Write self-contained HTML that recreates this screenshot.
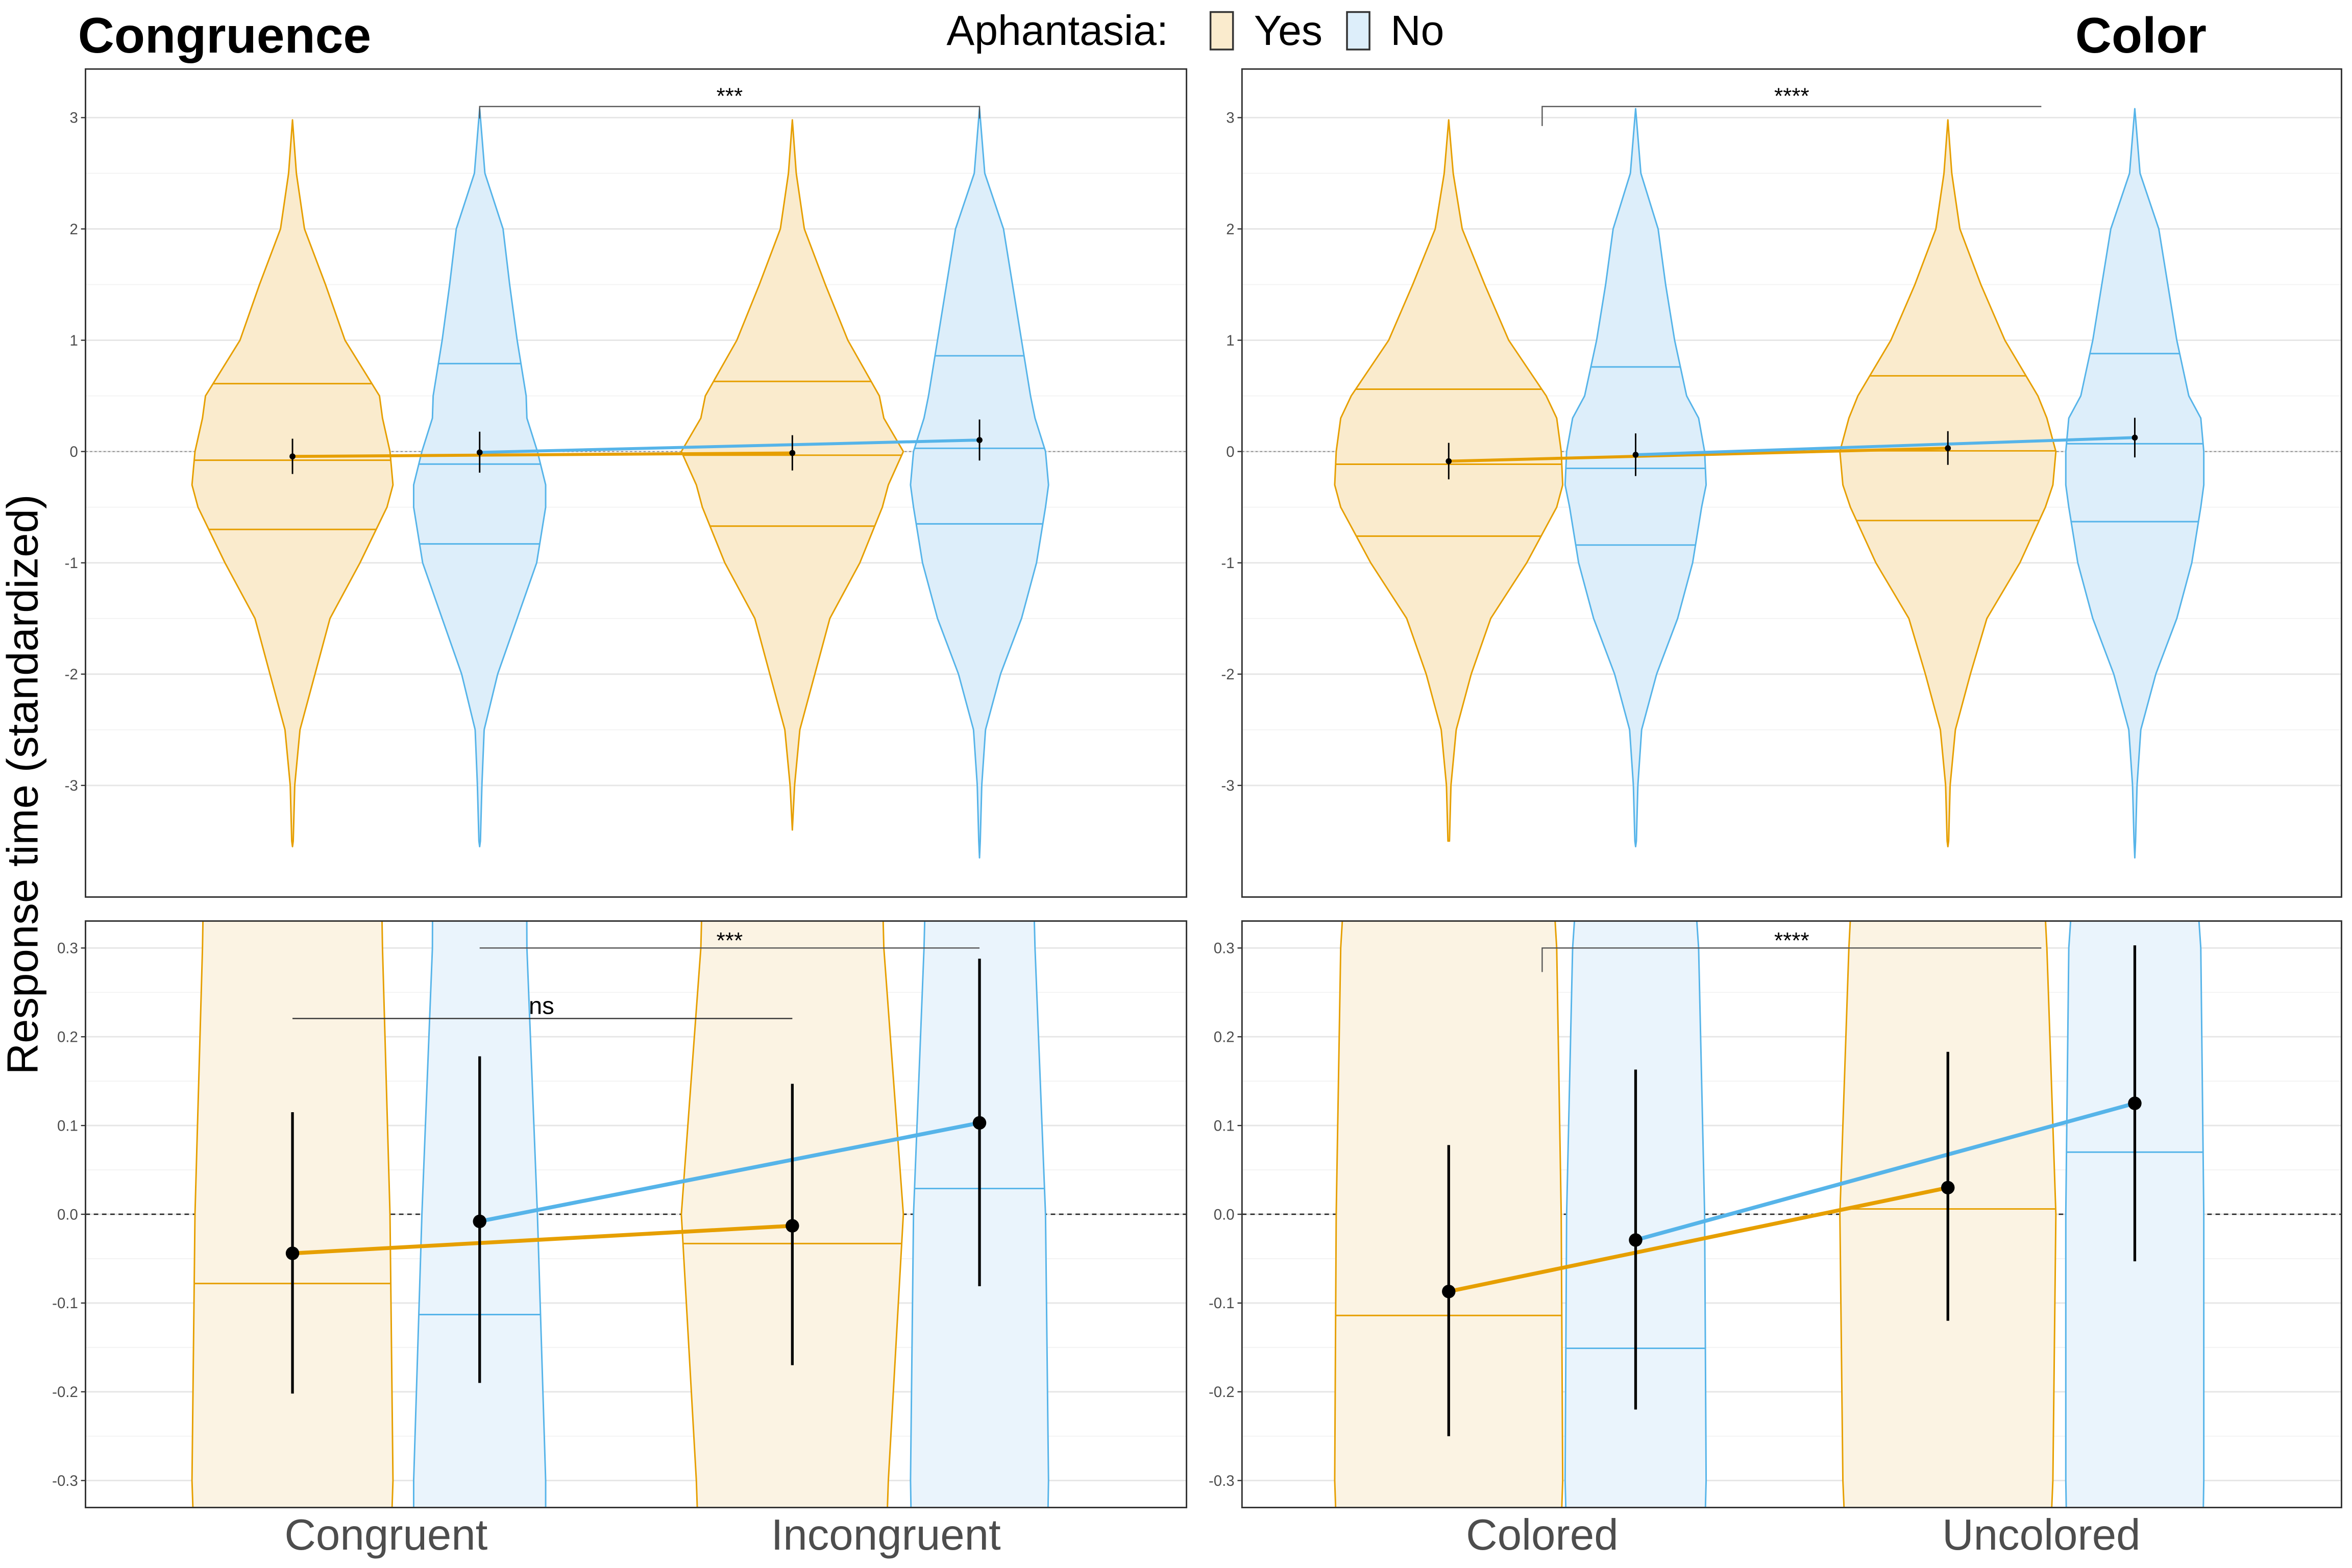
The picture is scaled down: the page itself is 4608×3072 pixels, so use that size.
<!DOCTYPE html>
<html><head><meta charset="utf-8"><style>
html,body{margin:0;padding:0;background:#fff;overflow:hidden;width:4608px;height:3072px;}
svg{display:block;font-family:"Liberation Sans",sans-serif;}
</style></head><body>
<svg id="chart" width="4608" height="3072" viewBox="0 0 1568 1045.3" xmlns="http://www.w3.org/2000/svg">
<g id="root"></g>
</svg>
<script>
// ---------- data ----------
const groups = ["Yes", "No"];
const condLeft = ["Congruent", "Incongruent"];
const condRight = ["Colored", "Uncolored"];
const levels = [3, 2.5, 2, 1.5, 1, 0.5, 0.3, 0, -0.3, -0.5, -1, -1.5, -2, -2.5, -3, -3.5];
const densCongYes = [0.5, 2.6, 8, 22, 35, 58, 60, 65, 67, 63, 45, 25, 15, 5, 1.5, 0.5];
const densCongNo = [0.5, 3.5, 15.6, 20, 25, 31, 31.5, 38.5, 44, 44, 38, 25, 12, 3, 1.5, 0.5];
const densIncYes = [0.5, 2.6, 8, 22, 37, 58, 61, 74, 64, 60, 45, 25, 15, 5, 1.5, 0.5];
const densIncNo = [0.5, 3.5, 16, 22, 28, 34, 37, 44, 46, 44, 38, 28, 14, 4, 1.5, 0.5];
const densColYes = [0.5, 3, 9, 24, 40, 65, 72, 75, 76, 72, 52, 28, 15, 5, 1.5, 0.5];
const densColNo = [0.5, 3.5, 15, 20, 26, 34, 42, 46, 47, 44, 38, 28, 14, 4, 1.5, 0.5];
const densUncYes = [0.5, 2.6, 8, 22, 38, 60, 66, 72, 70, 65, 48, 26, 15, 5, 1.5, 0.5];
const densUncNo = [0.5, 3.5, 16, 22, 28, 36, 44, 46, 46, 44, 38, 28, 14, 4, 1.5, 0.5];
const maxLeft = [2.98, 3.08, 2.98, 3.08];
const minLeft = [-3.55, -3.55, -3.4, -3.65];
const maxRight = [2.98, 3.08, 2.98, 3.08];
const minRight = [-3.5, -3.55, -3.55, -3.65];
const quantLeft = [[0.61, -0.078, -0.70], [0.79, -0.113, -0.83], [0.63, -0.033, -0.67], [0.86, 0.029, -0.65]];
const quantRight = [[0.56, -0.114, -0.76], [0.76, -0.151, -0.84], [0.68, 0.006, -0.62], [0.88, 0.07, -0.63]];
const meanLeft = [-0.044, -0.008, -0.013, 0.103];
const loLeft = [-0.202, -0.19, -0.17, -0.081];
const hiLeft = [0.115, 0.178, 0.147, 0.288];
const meanRight = [-0.087, -0.029, 0.030, 0.125];
const loRight = [-0.25, -0.22, -0.12, -0.053];
const hiRight = [0.078, 0.163, 0.183, 0.303];
const topTicks = [3, 2, 1, 0, -1, -2, -3];
const botTicks = [0.3, 0.2, 0.1, 0.0, -0.1, -0.2, -0.3];
const botTickLabels = ["0.3", "0.2", "0.1", "0.0", "-0.1", "-0.2", "-0.3"];

// ---------- drawing ----------
const NS = "http://www.w3.org/2000/svg";
const root = document.getElementById("root");
function el(tag, attrs, parent) {
  const e = document.createElementNS(NS, tag);
  for (const k in attrs) e.setAttribute(k, attrs[k]);
  (parent || root).appendChild(e);
  return e;
}
const ORANGE = "#E69F00", BLUE = "#56B4E9";
const FILLTOP = ["#FAEBCD", "#DDEEFA"], FILLBOT = ["#FBF3E3", "#EAF4FC"];
const colors = [ORANGE, BLUE];

const panels = [
  {name: "congruence", x0: 57, x1: 791, conds: condLeft, dens: [densCongYes, densCongNo, densIncYes, densIncNo], max: maxLeft, min: minLeft, q: quantLeft, m: meanLeft, lo: loLeft, hi: hiLeft},
  {name: "color", x0: 828, x1: 1561, conds: condRight, dens: [densColYes, densColNo, densUncYes, densUncNo], max: maxRight, min: minRight, q: quantRight, m: meanRight, lo: loRight, hi: hiRight}
];
const topY = v => 301 - v * 74.2;
const botY = v => 809.5 - v * 591.7;

function violinPath(cx, dens, ymax, ymin, yf) {
  const pts = [];
  pts.push([0, ymax]);
  for (let i = 0; i < levels.length; i++) {
    const lv = levels[i];
    if (lv <= ymax && lv >= ymin) pts.push([dens[i], lv]);
  }
  pts.push([0, ymin]);
  let d = "";
  pts.forEach((p, i) => { d += (i ? "L" : "M") + (cx + p[0]) + "," + yf(p[1]); });
  for (let i = pts.length - 1; i >= 0; i--) d += "L" + (cx - pts[i][0]) + "," + yf(pts[i][1]);
  return d + "Z";
}
function widthAt(dens, v) {
  for (let i = 0; i < levels.length - 1; i++) {
    if (v <= levels[i] && v >= levels[i + 1]) {
      const t = (levels[i] - v) / (levels[i] - levels[i + 1]);
      return dens[i] + t * (dens[i + 1] - dens[i]);
    }
  }
  return 0;
}

panels.forEach((P, pi) => {
  const w = P.x1 - P.x0;
  const xc = [P.x0 + w * 0.188, P.x0 + w * 0.358, P.x0 + w * 0.642, P.x0 + w * 0.812];
  const catX = [(xc[0] + xc[1]) / 2, (xc[2] + xc[3]) / 2];
  [["top", 46, 598, topY, topTicks, topTicks.map(String), 0.5], ["bottom", 614, 1005, botY, botTicks, botTickLabels, 0.05]].forEach(([which, y0, y1, yf, ticks, labels, minorStep]) => {
    const g = el("g", {});
    
    
    const cid = "clip" + pi + which;
    const cp = el("clipPath", {id: cid}, g);
    el("rect", {x: P.x0, y: y0, width: w, height: y1 - y0}, cp);
    for (let t = 0; t < ticks.length - 1; t++) {
      const mv = ticks[t] - minorStep;
      el("line", {x1: P.x0, x2: P.x1, y1: yf(mv), y2: yf(mv), stroke: "#f2f2f2", "stroke-width": 0.6}, g);
    }
    ticks.forEach((t, i) => {
      el("line", {x1: P.x0, x2: P.x1, y1: yf(t), y2: yf(t), stroke: "#e6e6e6", "stroke-width": 1}, g);
      el("line", {x1: P.x0 - 3, x2: P.x0, y1: yf(t), y2: yf(t), stroke: "#333", "stroke-width": 0.8}, g);
      const tl = el("text", {x: P.x0 - 5, y: yf(t) + 3.5, "text-anchor": "end", "font-size": 10, fill: "#4d4d4d"}, g);
      tl.textContent = labels[i];
      
      
    });
    const cg = el("g", {"clip-path": "url(#" + cid + ")"}, g);
    el("line", {x1: P.x0, x2: P.x1, y1: yf(0), y2: yf(0), stroke: which === "top" ? "#888" : "#222", "stroke-width": which === "top" ? 0.6 : 0.9, "stroke-dasharray": which === "top" ? "1.5,1.5" : "3,2.5"}, cg);
    for (let k = 0; k < 4; k++) {
      const gi = k % 2;
      const v = el("path", {d: violinPath(xc[k], P.dens[k], P.max[k], P.min[k], yf), fill: which === "top" ? FILLTOP[gi] : FILLBOT[gi], stroke: colors[gi], "stroke-width": 1, "stroke-linejoin": "round"}, cg);
      
      
      P.q[k].forEach(qv => {
        const hw = widthAt(P.dens[k], qv);
        const ql = el("line", {x1: xc[k] - hw, x2: xc[k] + hw, y1: yf(qv), y2: yf(qv), stroke: colors[gi], "stroke-width": 1}, cg);
        
        
      });
    }
    for (let gi = 0; gi < 2; gi++) {
      const ml = el("line", {x1: xc[gi], y1: yf(P.m[gi]), x2: xc[gi + 2], y2: yf(P.m[gi + 2]), stroke: colors[gi], "stroke-width": which === "top" ? 2 : 2.6}, cg);
      
      
    }
    for (let k = 0; k < 4; k++) {
      const eb = el("line", {x1: xc[k], x2: xc[k], y1: yf(P.lo[k]), y2: yf(P.hi[k]), stroke: "#000", "stroke-width": which === "top" ? 1 : 1.8}, cg);
      
      
      const pt = el("circle", {cx: xc[k], cy: yf(P.m[k]), r: which === "top" ? 2 : 4.5, fill: "#000"}, cg);
      
      
    }
    const sl = pi === 0 ? xc[1] : catX[0], sr = pi === 0 ? xc[3] : catX[1];
    const stars = pi === 0 ? "***" : "****";
    if (which === "top") {
      el("path", {d: `M${sl},${pi === 0 ? 79 : 84}V71H${sr}V${pi === 0 ? 79 : 71}`, fill: "none", stroke: "#555", "stroke-width": 0.8}, cg);
      const st = el("text", {x: (sl + sr) / 2, y: 69, "text-anchor": "middle", "font-size": 15}, cg);
      st.textContent = stars;
      
      
    } else {
      el("path", {d: `M${sl},${pi === 0 ? 632 : 648}V632H${sr}`, fill: "none", stroke: "#555", "stroke-width": 0.8}, cg);
      const st = el("text", {x: (sl + sr) / 2, y: 632, "text-anchor": "middle", "font-size": 15}, cg);
      st.textContent = stars;
      
      
      if (pi === 0) {
        el("line", {x1: xc[0], x2: xc[2], y1: 679, y2: 679, stroke: "#333", "stroke-width": 0.8}, cg);
        const ns = el("text", {x: 361, y: 676, "text-anchor": "middle", "font-size": 16}, cg);
        ns.textContent = "ns";
        
        
      }
      P.conds.forEach((c, ci) => {
        const xl = el("text", {x: catX[ci], y: 1033, "text-anchor": "middle", "font-size": 29, fill: "#4d4d4d"}, g);
        xl.textContent = c;
        
        
      });
    }
    el("rect", {x: P.x0, y: y0, width: w, height: y1 - y0, fill: "none", stroke: "#333", "stroke-width": 1}, g);
  });
});
</script>
<script>
(function(){
  const NS = "http://www.w3.org/2000/svg";
  const root = document.getElementById("root");
  function t(x, y, s, txt, name, extra) {
    const e = document.createElementNS(NS, "text");
    e.setAttribute("x", x); e.setAttribute("y", y); e.setAttribute("font-size", s);
    for (const k in (extra || {})) e.setAttribute(k, extra[k]);
    e.textContent = txt;
    
    
    root.appendChild(e);
    return e;
  }
  t(52, 35, 33.5, "Congruence", "title-congruence", {"font-weight": "bold"});
  t(1471, 35, 33.5, "Color", "title-color", {"font-weight": "bold", "text-anchor": "end"});
  t(631, 30, 28, "Aphantasia:", "legend-title");
  const b1 = document.createElementNS(NS, "rect");
  [["x",807],["y",8],["width",15],["height",25],["fill","#FAEBCD"],["stroke","#333"],["stroke-width",1.2]].forEach(a=>b1.setAttribute(a[0],a[1]));
  
  
  root.appendChild(b1);
  t(836, 30, 28, "Yes", "legend-label-yes");
  const b2 = document.createElementNS(NS, "rect");
  [["x",898],["y",8],["width",15],["height",25],["fill","#DDEEFA"],["stroke","#333"],["stroke-width",1.2]].forEach(a=>b2.setAttribute(a[0],a[1]));
  
  
  root.appendChild(b2);
  t(927, 30, 28, "No", "legend-label-no");
  t(0, 0, 29, "Response time (standardized)", "y-axis-title", {transform: "translate(25,523) rotate(-90)", "text-anchor": "middle"});
})();
</script>
</body></html>
